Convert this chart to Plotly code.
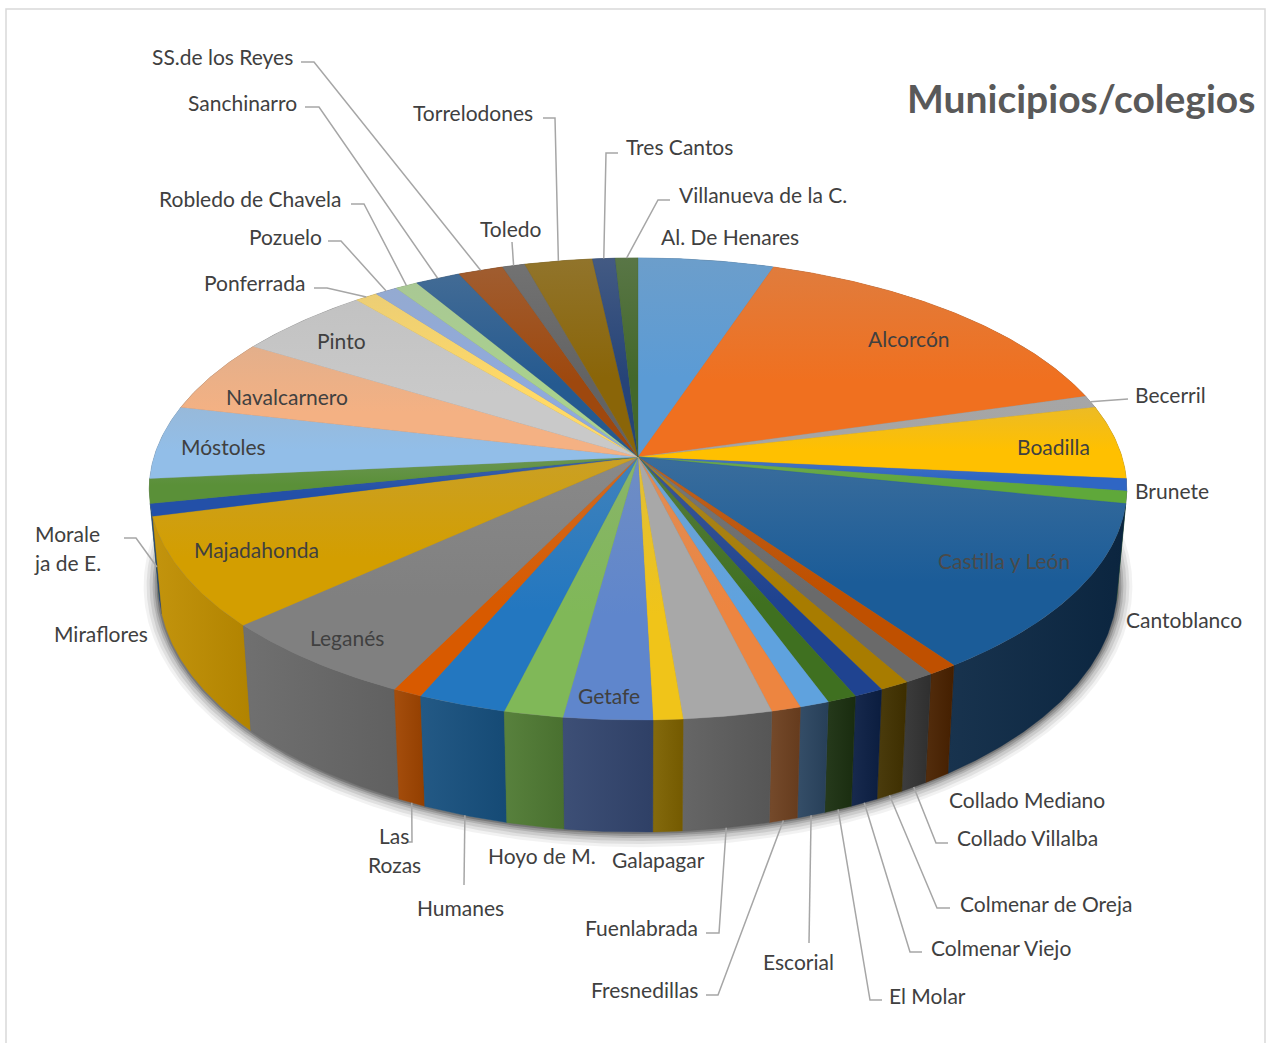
import math
import plotly.graph_objects as go

# ---------- data (colegios por municipio, clockwise from 12 o'clock) ----------
municipios = ["Al. De Henares", "Alcorcón", "Becerril", "Boadilla", "Brunete", "Cantoblanco",
              "Castilla y León", "Collado Mediano", "Collado Villalba", "Colmenar de Oreja",
              "Colmenar Viejo", "El Molar", "Escorial", "Fresnedillas", "Fuenlabrada", "Galapagar",
              "Getafe", "Hoyo de M.", "Humanes", "Las Rozas", "Leganés", "Majadahonda", "Miraflores",
              "Moraleja de E.", "Móstoles", "Navalcarnero", "Pinto", "Ponferrada", "Pozuelo",
              "Robledo de Chavela", "Sanchinarro", "SS.de los Reyes", "Toledo", "Torrelodones",
              "Tres Cantos", "Villanueva de la C."]
colegios = [6, 18, 1, 6, 1, 1, 14, 1, 1, 1, 1, 1, 1, 1, 3, 1, 3, 2, 3, 1, 7, 9, 1, 2, 6, 6, 6, 1, 1, 1, 2, 2, 1, 3, 1, 1]
top_colors = ["#5B9BD5", "#F0701F", "#A5A5A5", "#FFC000", "#2F66C4", "#5FA83A", "#1B5C98", "#BF5000",
              "#6A6A6A", "#A87C00", "#1F4390", "#3F7020", "#5FA2DE", "#ED8540", "#A8A8A8", "#F0C419",
              "#5F86CC", "#80B858", "#2377C0", "#D85A00", "#808080", "#D39E00", "#2350A8", "#5A9038",
              "#92BEE8", "#F4B183", "#C9C9C9", "#FFD966", "#8FAADC", "#A9D18E", "#255A90", "#9E480E",
              "#636363", "#8A6508", "#264478", "#43682B"]
wall_colors = ["#3A6A94", "#A85520", "#707070", "#B08500", "#1D4080", "#3D6E24", "#0C2845", "#4A2200",
               "#333333", "#423200", "#0C1F45", "#1B3010", "#2A4560", "#6E4020", "#5E5E5E", "#7E6200",
               "#33466F", "#4F7A33", "#17507F", "#A04500", "#686868", "#C08E00", "#1D3F80", "#3D6E24",
               "#6A8AA8", "#A87850", "#8A8A8A", "#B09840", "#607090", "#70905C", "#183C5E", "#6A3008",
               "#444444", "#5E4804", "#1A2F54", "#2E481C"]

# labels: text, centre x, centre y (pixel-like layout positions)
label_text = ["SS.de los Reyes", "Sanchinarro", "Torrelodones", "Tres Cantos", "Villanueva de la C.",
              "Al. De Henares", "Toledo", "Robledo de Chavela", "Pozuelo", "Ponferrada", "Pinto",
              "Navalcarnero", "Móstoles", "Morale", "ja de E.", "Majadahonda", "Miraflores", "Leganés",
              "Las", "Rozas", "Humanes", "Hoyo de M.", "Galapagar", "Getafe", "Fuenlabrada",
              "Fresnedillas", "Escorial", "El Molar", "Colmenar Viejo", "Colmenar de Oreja",
              "Collado Villalba", "Collado Mediano", "Cantoblanco", "Castilla y León", "Brunete",
              "Boadilla", "Becerril", "Alcorcón"]
label_x = [222, 242, 473, 679, 763, 730, 511, 250, 285, 254, 341, 287, 223, 67, 67, 256, 101, 347,
           394, 394, 460, 542, 658, 609, 641, 644, 798, 927, 1001, 1046, 1027, 1027, 1184, 1004, 1172,
           1053, 1170, 909]
label_y = [56, 102, 112, 146, 194, 236, 228, 198, 236, 282, 340, 396, 446, 533, 562, 549, 633, 637,
           835, 864, 907, 855, 859, 695, 927, 989, 961, 995, 947, 903, 837, 799, 619, 560, 490, 446,
           394, 338]

# leader lines: municipality -> knee points next to its label, rim it ends on
leaders = {
    "SS.de los Reyes": ([(301, 62), (314, 62)], "top"),
    "Sanchinarro": ([(305, 107), (319, 107)], "top"),
    "Torrelodones": ([(543, 118), (555, 118)], "top"),
    "Tres Cantos": ([(618, 153), (606, 153)], "top"),
    "Villanueva de la C.": ([(670, 200), (658, 200)], "top"),
    "Toledo": ([(512, 242)], "top"),
    "Robledo de Chavela": ([(351, 204), (364, 204)], "top"),
    "Pozuelo": ([(328, 241), (341, 241)], "top"),
    "Ponferrada": ([(314, 288), (327, 288)], "top"),
    "Becerril": ([(1128, 399)], "top"),
    "Moraleja de E.": ([(124, 538), (136, 538)], "wall"),
    "Las Rozas": ([(407, 842), (412, 842)], "bottom"),
    "Humanes": ([(464, 885)], "bottom"),
    "Fuenlabrada": ([(706, 933), (719, 933)], "bottom"),
    "Fresnedillas": ([(706, 995), (718, 995)], "bottom"),
    "Escorial": ([(809, 943)], "bottom"),
    "El Molar": ([(882, 1000), (870, 1000)], "bottom"),
    "Colmenar Viejo": ([(922, 952), (910, 952)], "bottom"),
    "Colmenar de Oreja": ([(950, 908), (937, 908)], "bottom"),
    "Collado Villalba": ([(948, 843), (936, 843)], "bottom"),
}

# ---------- projection of the tilted disc ----------
CX, CY, B, K, R = 638.0, 457.0, 226.6, 0.1385, 484.0


def rim(theta_deg):
    t = math.radians(theta_deg)
    u, s = math.sin(t), -math.cos(t)
    w = 1 - K * s
    return CX + R * u / w, CY + B * s / w


def lower(x, y):
    return CX + (x - CX) * 0.981, y + 112 - 0.07 * (720 - y)


def mix(hex_c, other, f):
    a = [int(hex_c[i:i + 2], 16) for i in (1, 3, 5)]
    b = [int(other[i:i + 2], 16) for i in (1, 3, 5)]
    return "rgb(%d,%d,%d)" % tuple(round(p + (q - p) * f) for p, q in zip(a, b))


total = sum(colegios)
edges = [0.0]
for v in colegios:
    edges.append(edges[-1] + v / total * 360)


def arc(a, b):
    n = max(3, int((b - a) * 2))
    return [rim(a + (b - a) * i / n) for i in range(n + 1)]


fig = go.Figure()

# soft shadow under the disc
full = arc(0, 360)
for e, al in [(15, .05), (12, .07), (9, .09), (6, .12), (4, .15), (2, .2)]:
    pts = [lower(x, y) for x, y in full]
    xs = [CX + (x - CX) * (1 + e / 480) for x, y in pts]
    ys = [560 + (y - 560) * (1 + e / 270) for x, y in pts]
    fig.add_trace(go.Scatter(x=xs, y=ys, mode="lines", fill="toself", line=dict(width=0),
                             fillcolor="rgba(0,0,0,%s)" % al, hoverinfo="skip"))

# outer walls, back to front
order = sorted(range(len(colegios)),
               key=lambda i: -math.cos(math.radians((edges[i] + edges[i + 1]) / 2)))
for i in order:
    up = arc(edges[i], edges[i + 1])
    lo = [lower(x, y) for x, y in up]
    poly = up + lo[::-1] + [up[0]]
    xs = [p[0] for p in poly]
    ys = [p[1] for p in poly]
    c = wall_colors[i]
    fig.add_trace(go.Scatter(
        x=xs, y=ys, mode="lines", fill="toself", line=dict(width=0.4, color=c), hoverinfo="skip",
        fillgradient=dict(type="horizontal", start=min(xs), stop=max(xs),
                          colorscale=[[0, mix(c, "#FFFFFF", .05)], [1, mix(c, "#000000", .08)]])))

# top face
fig.add_trace(go.Scatter(x=[p[0] for p in full], y=[p[1] for p in full], mode="lines", fill="toself",
                         line=dict(width=0), fillcolor="#808080", hoverinfo="skip"))
for i, name in enumerate(municipios):
    a = arc(edges[i], edges[i + 1])
    poly = [(CX, CY)] + a + [(CX, CY)]
    xs = [p[0] for p in poly]
    ys = [p[1] for p in poly]
    c = top_colors[i]
    y0, y1 = min(ys), max(ys)
    fig.add_trace(go.Scatter(
        x=xs, y=ys, mode="lines", fill="toself", line=dict(width=0.3, color=c), name=name,
        fillgradient=dict(type="vertical", start=y0, stop=y0 + 0.6 * (y1 - y0),
                          colorscale=[[0, mix(c, "#A8A8A8", .22)], [1, c]])))

# leader lines
for name, (knees, where) in leaders.items():
    i = municipios.index(name)
    x, y = rim((edges[i] + edges[i + 1]) / 2)
    if where == "bottom":
        x, y = lower(x, y)
    elif where == "wall":
        bx, by = lower(x, y)
        x, y = (x + bx) / 2 + 3, (y + by) / 2 + 28
    xs = [p[0] for p in knees] + [x]
    ys = [p[1] for p in knees] + [y]
    fig.add_trace(go.Scatter(x=xs, y=ys, mode="lines", line=dict(color="#A6A6A6", width=1.5),
                             hoverinfo="skip"))

for t, x, y in zip(label_text, label_x, label_y):
    col = "#4A4A4A" if t == "Castilla y León" else "#404040"
    fig.add_annotation(x=x, y=y, text=t, showarrow=False, xanchor="center", yanchor="middle",
                       font=dict(family="Lato", size=21, color=col))
fig.add_annotation(x=1081, y=98, text="<b>Municipios/colegios</b>", showarrow=False,
                   xanchor="center", yanchor="middle", font=dict(family="Lato", size=39, color="#595959"))

fig.add_shape(type="rect", x0=6, y0=9, x1=1265, y1=1080, line=dict(color="#D9D9D9", width=1.5),
              fillcolor="rgba(0,0,0,0)", layer="below")
fig.update_xaxes(range=[0, 1266], visible=False, fixedrange=True)
fig.update_yaxes(range=[1043, 0], visible=False, fixedrange=True)
fig.update_layout(width=1266, height=1043, margin=dict(l=0, r=0, t=0, b=0), showlegend=False,
                  paper_bgcolor="white", plot_bgcolor="white")
fig.write_html("out.html", config={"displayModeBar": False},
               post_script="document.body.style.margin='0';document.body.style.overflow='hidden';")
